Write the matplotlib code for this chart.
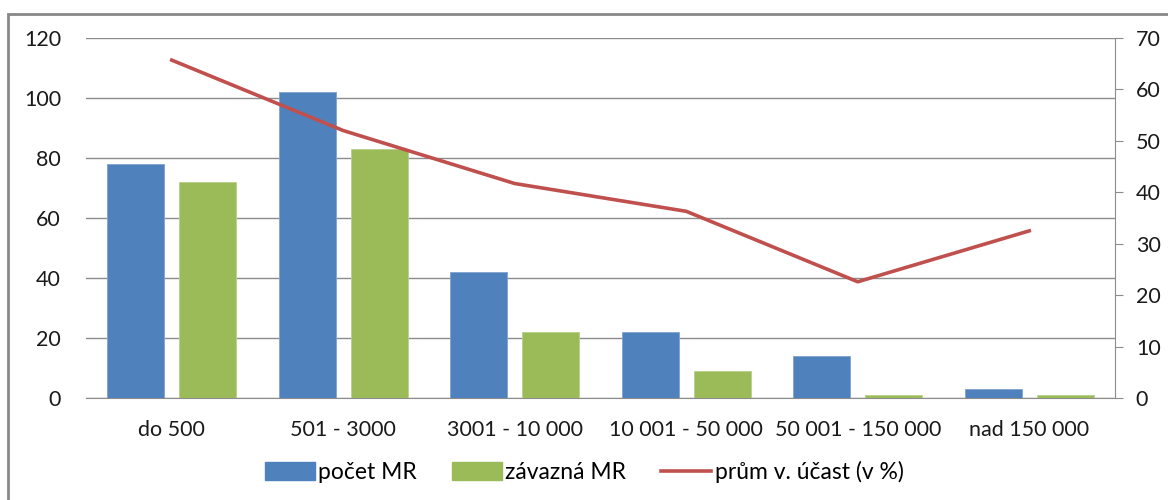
import numpy as np
import matplotlib.pyplot as plt
from matplotlib.patches import Rectangle
from matplotlib.lines import Line2D

plt.rcParams['font.family'] = ['Lato', 'DejaVu Sans']

kategorie = ['do 500', '501 - 3000', '3001 - 10 000', '10 001 - 50 000',
             '50 001 - 150 000', 'nad 150 000']
pocet_mr = [78, 102, 42, 22, 14, 3]
zavazna_mr = [72, 83, 22, 9, 1, 1]
ucast = [65.7, 52.0, 41.7, 36.3, 22.6, 32.5]

modra = '#4F81BD'
zelena = '#9BBB59'
cervena = '#C0504D'
seda = '#8C8C8C'
fs = 15.5

fig = plt.figure(figsize=(11.68, 5.0), dpi=100)
ax = fig.add_axes([86 / 1168, 102 / 500, (1115 - 86) / 1168, 360 / 500])
ax2 = ax.twinx()

x = np.arange(len(kategorie))
w = 0.333
ax.bar(x - 0.21, pocet_mr, w, color=modra, edgecolor='#7FA3D1', linewidth=0.6, zorder=3)
ax.bar(x + 0.21, zavazna_mr, w, color=zelena, edgecolor='#B8D08A', linewidth=0.6, zorder=3)

ax.set_xlim(-0.5, len(kategorie) - 0.5)
ax.set_ylim(0, 120)
ax.set_yticks(range(0, 121, 20))
ax.set_xticks(x)
ax.set_xticklabels(kategorie)
ax.grid(axis='y', color=seda, linewidth=1.0, zorder=0)
ax.set_axisbelow(True)
for s in ['top', 'left', 'right']:
    ax.spines[s].set_visible(False)
ax.spines['bottom'].set_color(seda)
ax.tick_params(axis='y', length=0, pad=18, labelsize=fs, colors='#1a1a1a')
ax.tick_params(axis='x', length=0, pad=16, labelsize=fs, colors='#1a1a1a')

ax2.plot(x, ucast, color=cervena, linewidth=2.6, zorder=4)
ax2.set_ylim(0, 70)
ax2.set_yticks(range(0, 71, 10))
for s in ['top', 'left', 'bottom']:
    ax2.spines[s].set_visible(False)
ax2.spines['right'].set_color(seda)
ax2.tick_params(axis='y', length=6, color=seda, labelsize=fs, labelcolor='#1a1a1a', pad=9)

handles = [
    Rectangle((0, 0), 1, 1, color=modra),
    Rectangle((0, 0), 1, 1, color=zelena),
    Line2D([0], [0], color=cervena, linewidth=2.6),
]
fig.legend(handles, ['počet MR', 'závazná MR', 'prům v. účast (v %)'],
           loc='center', bbox_to_anchor=(0.5, 28 / 500), ncol=3, frameon=False,
           fontsize=16.5, handlelength=2.2, handleheight=0.8, columnspacing=1.5,
           handletextpad=0.15)

fig.patches.append(Rectangle((8 / 1168, -0.1), 1.2, 0.1 + 486 / 500, transform=fig.transFigure,
                             fill=False, edgecolor='#888888', linewidth=2.0))

fig.savefig('out.png', dpi=100)
